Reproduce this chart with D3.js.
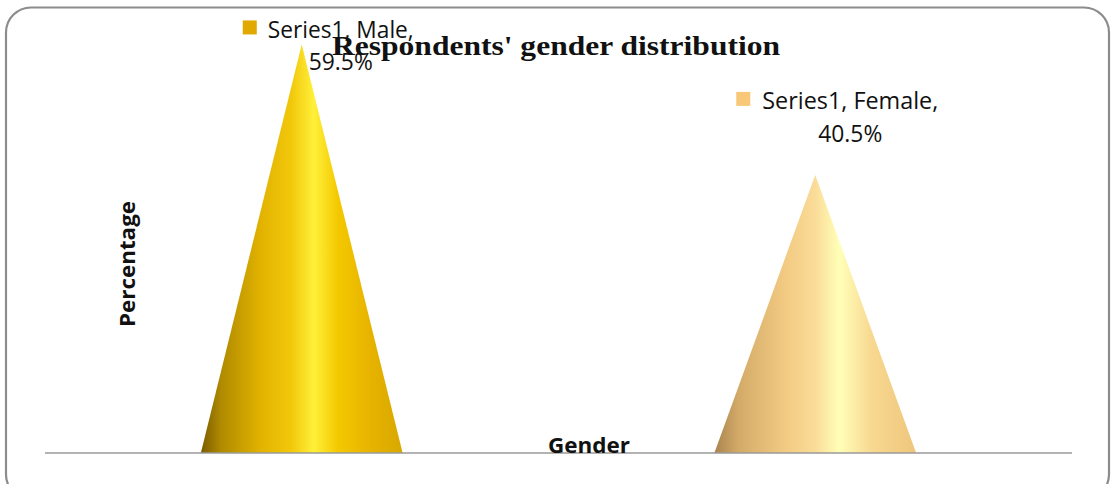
<!DOCTYPE html>
<html>
<head>
<meta charset="utf-8">
<script src="https://cdn.jsdelivr.net/npm/d3@7"></script>
<style>
body { margin: 0; background: #fff; }
</style>
</head>
<body>
<svg></svg>
<script>
var screen = {width: 1112, height: 484};
var margins = {top: 41, left: 45, right: 40, bottom: 31};

var categories = ["Male", "Female"];
var values = [59.5, 40.5];
var seriesName = "Series1";
var labelColors = ["#e0a800", "#f8c878"];

var setup = function()
{
    var svg = d3.select("svg")
    .attr("width", screen.width)
    .attr("height", screen.height);

    var width = screen.width - margins.left - margins.right;
    var height = screen.height - margins.top - margins.bottom;

    // outer frame (bottom edge runs past the picture)
    svg.append("rect")
    .attr("x", 6).attr("y", 7.5)
    .attr("width", 1103).attr("height", 492)
    .attr("rx", 25).attr("ry", 25)
    .attr("fill", "white")
    .attr("stroke", "#8c8c8c")
    .attr("stroke-width", 2.2);

    var xScale = d3.scaleBand().domain(categories).range([0, width])
    .paddingInner(0.607).paddingOuter(0.3035);
    var yScale = d3.scaleLinear().domain([0, 60]).range([height, 0]);

    var defs = svg.append("defs");
    var maleGrad = defs.append("linearGradient").attr("id", "g0");
    [[0, "#7a5c00"], [0.1, "#b08a00"], [0.3, "#e2b300"], [0.45, "#f2c80c"], [0.56, "#fff03a"], [0.68, "#f4c800"], [0.85, "#e6b200"], [1, "#d8a800"]]
    .forEach(function(s){ maleGrad.append("stop").attr("offset", s[0]).attr("stop-color", s[1]); });
    var femaleGrad = defs.append("linearGradient").attr("id", "g1");
    [[0, "#a88450"], [0.12, "#d4aa68"], [0.35, "#f2ca82"], [0.5, "#fadc98"], [0.62, "#ffffb8"], [0.78, "#f8d890"], [1, "#eec67c"]]
    .forEach(function(s){ femaleGrad.append("stop").attr("offset", s[0]).attr("stop-color", s[1]); });

    var graph = svg.append("g")
    .attr("id", "graph")
    .attr("transform", "translate(" + margins.left + "," + margins.top + ")");

    graph.selectAll("path.cone")
    .data(values)
    .enter()
    .append("path")
    .classed("cone", true)
    .attr("d", function(d, i){
        var x0 = xScale(categories[i]);
        var bw = xScale.bandwidth();
        return "M" + x0 + "," + yScale(0) + "L" + (x0 + bw / 2) + "," + yScale(d) + "L" + (x0 + bw) + "," + yScale(0) + "Z";
    })
    .attr("fill", function(d, i){ return "url(#g" + i + ")"; });

    // baseline
    graph.append("line")
    .attr("x1", 0).attr("x2", width)
    .attr("y1", yScale(0)).attr("y2", yScale(0))
    .attr("stroke", "#9a9a9a")
    .attr("stroke-width", 1.5);

    // data labels, placed relative to each cone tip
    var labelPos = [
        {sq: [-59, -24], t1: [-34, -6], t2: [39, 26], w: 146},
        {sq: [-79, -83], t1: [-53, -66], t2: [35, -33], w: 176}
    ];
    var labels = graph.selectAll("g.label")
    .data(values)
    .enter()
    .append("g")
    .classed("label", true)
    .attr("transform", function(d, i){
        var cx = xScale(categories[i]) + xScale.bandwidth() / 2;
        return "translate(" + cx + "," + yScale(d) + ")";
    });

    labels.append("rect")
    .attr("x", function(d, i){ return labelPos[i].sq[0]; })
    .attr("y", function(d, i){ return labelPos[i].sq[1]; })
    .attr("width", 14).attr("height", 14)
    .attr("fill", function(d, i){ return labelColors[i]; });

    labels.append("text")
    .attr("x", function(d, i){ return labelPos[i].t1[0]; })
    .attr("y", function(d, i){ return labelPos[i].t1[1]; })
    .style("font-family", "'Open Sans', sans-serif")
    .style("font-size", "23px")
    .attr("textLength", function(d, i){ return labelPos[i].w; })
    .attr("lengthAdjust", "spacingAndGlyphs")
    .attr("fill", "#111")
    .text(function(d, i){ return seriesName + ", " + categories[i] + ","; });

    labels.append("text")
    .attr("x", function(d, i){ return labelPos[i].t2[0]; })
    .attr("y", function(d, i){ return labelPos[i].t2[1]; })
    .attr("text-anchor", "middle")
    .style("font-family", "'Open Sans', sans-serif")
    .style("font-size", "23px")
    .attr("textLength", 64)
    .attr("lengthAdjust", "spacingAndGlyphs")
    .attr("fill", "#111")
    .text(function(d){ return d.toFixed(1) + "%"; });

    // title
    svg.append("text")
    .attr("x", 556).attr("y", 55)
    .attr("text-anchor", "middle")
    .style("font-family", "'Liberation Serif', serif")
    .style("font-weight", "bold")
    .style("font-size", "28px")
    .attr("textLength", 448)
    .attr("lengthAdjust", "spacingAndGlyphs")
    .attr("fill", "#111")
    .text("Respondents' gender distribution");

    // axis titles
    svg.append("text")
    .attr("transform", "translate(135,264) rotate(-90)")
    .attr("text-anchor", "middle")
    .style("font-family", "'Open Sans', sans-serif")
    .style("font-weight", "bold")
    .style("font-size", "22px")
    .attr("textLength", 126)
    .attr("lengthAdjust", "spacingAndGlyphs")
    .attr("fill", "#111")
    .text("Percentage");

    svg.append("text")
    .attr("x", 589).attr("y", 453)
    .attr("text-anchor", "middle")
    .style("font-family", "'Open Sans', sans-serif")
    .style("font-weight", "bold")
    .style("font-size", "22px")
    .attr("textLength", 82)
    .attr("lengthAdjust", "spacingAndGlyphs")
    .attr("fill", "#111")
    .text("Gender");
}

setup();
</script>
</body>
</html>
